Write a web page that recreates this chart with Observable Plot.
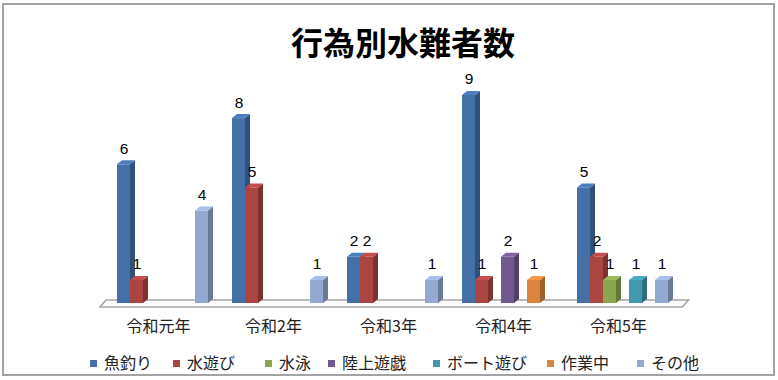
<!DOCTYPE html>
<html>
<head>
<meta charset="utf-8">
<script src="https://cdn.jsdelivr.net/npm/d3@7"></script>
<script src="https://cdn.jsdelivr.net/npm/@observablehq/plot@0.6"></script>
<style>
  html, body { margin: 0; padding: 0; background: #fff; }
  #wrap { position: relative; width: 778px; height: 380px; overflow: hidden; font-family: "Noto Sans CJK JP", sans-serif; }
  #border { position: absolute; left: 2px; top: 3px; width: 773px; height: 373px; box-sizing: border-box; border: 2px solid #a3a3a3; }
  #title { position: absolute; left: 0; top: 24px; width: 806px; text-align: center; font-size: 32px; line-height: 34px; font-weight: bold; color: #000; }
  #chart { position: absolute; left: 0; top: 0; }
  .leg { position: absolute; top: 353px; height: 18px; line-height: 18px; font-size: 16px; color: #222; white-space: nowrap; }
  .leg i { display: inline-block; width: 7px; height: 7px; margin-right: 7px; vertical-align: 2px; }
</style>
</head>
<body>
<div id="wrap">
  <div id="border"></div>
  <div id="chart"></div>
  <div id="title">行為別水難者数</div>
  <div id="legend"></div>
</div>
<script>
// ---- data ----
const years = ["令和元年", "令和2年", "令和3年", "令和4年", "令和5年"];
const seriesNames = ["魚釣り", "水遊び", "水泳", "陸上遊戯", "ボート遊び", "作業中", "その他"];
const seriesColors = ["#4470A8", "#AA4542", "#89A54E", "#71588F", "#4198AF", "#DB843D", "#93A9CF"];
const fishing   = [6, 8, 2, 9, 5];
const waterPlay = [1, 5, 2, 1, 2];
const swimming  = [0, 0, 0, 0, 1];
const landPlay  = [0, 0, 0, 2, 0];
const boating   = [0, 0, 0, 0, 1];
const working   = [0, 0, 0, 1, 0];
const other     = [4, 1, 1, 0, 1];
const legendX   = [90, 173, 265, 328, 433, 547, 637];

const seriesValues = [fishing, waterPlay, swimming, landPlay, boating, working, other];
const rows = [];
years.forEach((yr, yi) => {
  seriesNames.forEach((s, si) => {
    const v = seriesValues[si][yi];
    if (v > 0) rows.push({year: yr, series: s, value: v});
  });
});

const DX = 5, DY = 4;
const NS = "http://www.w3.org/2000/svg";
function poly(pts, fill) {
  const p = document.createElementNS(NS, "polygon");
  p.setAttribute("points", pts.map(q => q.join(",")).join(" "));
  p.setAttribute("fill", fill);
  return p;
}
function threeD(index, scales, values, dims, ctx, next) {
  const g = next(index, scales, values, dims, ctx);
  g.querySelectorAll("rect").forEach(r => {
    const x = +r.getAttribute("x"), y = +r.getAttribute("y");
    const w = +r.getAttribute("width"), h = +r.getAttribute("height");
    const fill = r.getAttribute("fill") || "#888";
    const side = poly([[x + w, y], [x + w + DX, y - DY], [x + w + DX, y + h - DY], [x + w, y + h]], d3.rgb(fill).darker(0.9).formatHex());
    const top = poly([[x, y], [x + DX, y - DY], [x + w + DX, y - DY], [x + w, y]], d3.rgb(fill).brighter(0.35).formatHex());
    r.after(side, top);
  });
  return g;
}

const plot = Plot.plot({
  width: 778,
  height: 345,
  marginLeft: 114,
  marginRight: 107.5,
  marginTop: 95,
  marginBottom: 42,
  fx: {domain: years, paddingInner: 0.182, paddingOuter: 0, label: null, axis: null},
  x: {domain: seriesNames, padding: 0, axis: null},
  y: {domain: [0, 9], axis: null},
  color: {domain: seriesNames, range: seriesColors},
  style: {fontFamily: "'Noto Sans CJK JP', sans-serif", fontSize: "16px", background: "transparent", overflow: "visible", color: "#222"},
  marks: [
    Plot.axisFx({anchor: "bottom", tickSize: 0, tickPadding: 17, dx: -4, fontSize: 16, label: null, fill: "#222"}),
    Plot.barY(rows, {fx: "year", x: "series", y: "value", fill: "series", render: threeD}),
    Plot.text(rows, {fx: "year", x: "series", y: "value", text: d => String(d.value), dy: -16, fontSize: 15.5, fontFamily: "'Liberation Sans', sans-serif", fill: "#000"})
  ]
});

// floor platform derived from the plot's scales
const fxr = plot.scale("fx").range;
const yr = plot.scale("y").range;
const y0 = yr[0];
const left = fxr[0] - 14, right = fxr[1] + 12;
const floor = document.createElementNS(NS, "polygon");
floor.setAttribute("points", [[left, y0 + 4], [left + 6, y0 - 3], [right + 6, y0 - 3], [right, y0 + 4]].map(q => q.join(",")).join(" "));
floor.setAttribute("fill", "#fbfbfb");
floor.setAttribute("stroke", "#a6a6a6");
floor.setAttribute("stroke-width", "1.6");
plot.insertBefore(floor, plot.querySelector("g"));

document.getElementById("chart").appendChild(plot);

const leg = document.getElementById("legend");
seriesNames.forEach((s, i) => {
  const d = document.createElement("div");
  d.className = "leg";
  d.style.left = legendX[i] + "px";
  d.innerHTML = `<i style="background:${seriesColors[i]}"></i>${s}`;
  leg.appendChild(d);
});
</script>
</body>
</html>
